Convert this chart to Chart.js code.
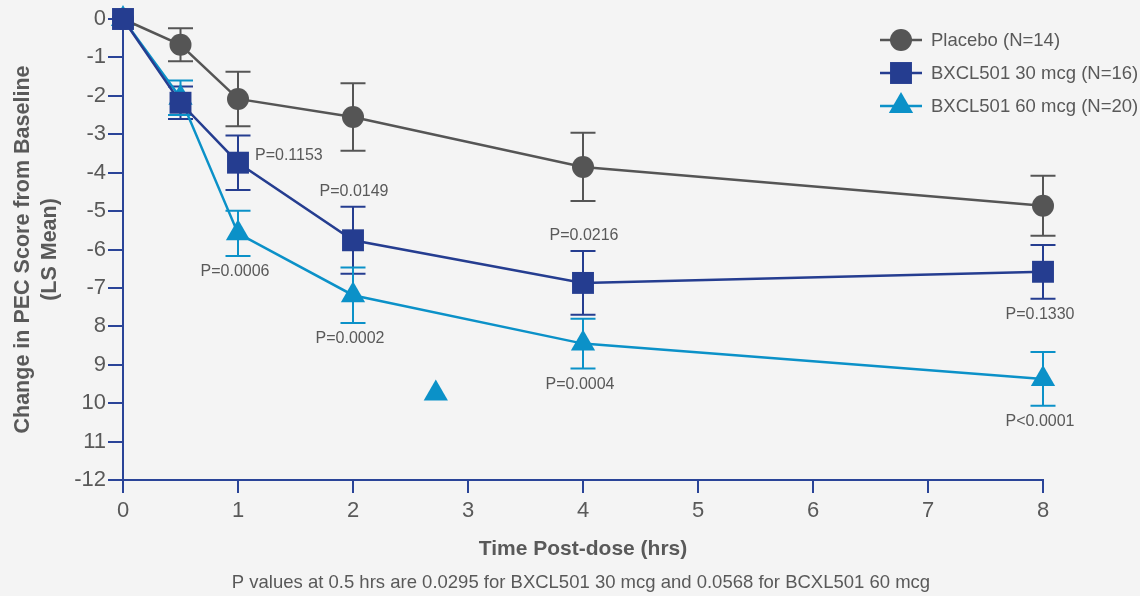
<!DOCTYPE html>
<html>
<head>
<meta charset="utf-8">
<script src="https://cdn.jsdelivr.net/npm/chart.js@4.4.1/dist/chart.umd.min.js"></script>
<style>
  html, body { margin: 0; padding: 0; background: #f4f4f4; }
  #wrap { width: 1140px; height: 596px; }
</style>
</head>
<body>
<div id="wrap"><canvas id="chart" width="1140" height="596"></canvas></div>
<script>
// time points (hrs)
const hours = [0, 0.5, 1, 2, 4, 8];

// LS mean change and error (half-length of error bar)
const placeboMean = [0, -0.67, -2.08, -2.55, -3.85, -4.86];
const placeboErr  = [0, 0.43, 0.71, 0.88, 0.89, 0.78];
const mcg30Mean   = [0, -2.18, -3.74, -5.76, -6.87, -6.58];
const mcg30Err    = [0, 0.42, 0.71, 0.87, 0.83, 0.70];
const mcg60Mean   = [0, -2.05, -5.58, -7.19, -8.45, -9.37];
const mcg60Err    = [0, 0.45, 0.59, 0.72, 0.65, 0.70];

// p-value annotations
const mcg30P     = [null, null, 'P=0.1153', 'P=0.0149', 'P=0.0216', 'P=0.1330'];
const mcg30PSide = [null, null, 'right', 'above', 'above', 'below'];
const mcg60P     = [null, null, 'P=0.0006', 'P=0.0002', 'P=0.0004', 'P<0.0001'];
const mcg60PSide = [null, null, 'below', 'below', 'below', 'below'];

// stray marker in the source figure
const strayX = [2.72];
const strayY = [-9.75];

const seriesNames = ['Placebo (N=14)', 'BXCL501 30 mcg (N=16)', 'BXCL501 60 mcg (N=20)'];
const yTickLabels = ['0', '-1', '-2', '-3', '-4', '-5', '-6', '-7', '8', '9', '10', '11', '-12'];
const xTitle = 'Time Post-dose (hrs)';
const yTitle = ['Change in PEC Score from Baseline', '(LS Mean)'];
const footnote = 'P values at 0.5 hrs are 0.0295 for BXCL501 30 mcg and 0.0568 for BCXL501 60 mcg';

const GREY = '#555555';
const NAVY = '#253d90';
const CYAN = '#0b91c8';
const AXIS = '#2a4498';
const TEXT = '#595959';
const FONT = 'Arial, "Liberation Sans", sans-serif';

const toPts = (xs, ys) => xs.map((x, i) => ({ x: x, y: ys[i] }));

const errorBars = {
  id: 'errorBars',
  beforeDatasetsDraw(chart) {
    const ctx = chart.ctx;
    const xs = chart.scales.x, ys = chart.scales.y;
    chart.data.datasets.forEach((ds) => {
      if (!ds.errors) return;
      ctx.save();
      ctx.strokeStyle = ds.borderColor;
      ctx.lineWidth = 2;
      ds.data.forEach((p, i) => {
        const e = ds.errors[i];
        if (!e) return;
        const px = xs.getPixelForValue(p.x);
        const top = ys.getPixelForValue(p.y + e);
        const bot = ys.getPixelForValue(p.y - e);
        ctx.beginPath();
        ctx.moveTo(px, top); ctx.lineTo(px, bot);
        ctx.moveTo(px - 12.5, top); ctx.lineTo(px + 12.5, top);
        ctx.moveTo(px - 12.5, bot); ctx.lineTo(px + 12.5, bot);
        ctx.stroke();
      });
      ctx.restore();
    });
  }
};

const annotations = {
  id: 'annotations',
  afterDraw(chart) {
    const ctx = chart.ctx;
    const xs = chart.scales.x, ys = chart.scales.y;
    ctx.save();
    ctx.fillStyle = TEXT;
    ctx.textBaseline = 'middle';

    // p-values
    ctx.font = '16px ' + FONT;
    chart.data.datasets.forEach((ds) => {
      if (!ds.pvals) return;
      ds.data.forEach((p, i) => {
        const t = ds.pvals[i];
        if (!t) return;
        const side = ds.pside[i];
        const e = ds.errors[i];
        const px = xs.getPixelForValue(p.x);
        if (side === 'right') {
          ctx.textAlign = 'left';
          ctx.fillText(t, px + 17, ys.getPixelForValue(p.y) - 7);
        } else if (side === 'above') {
          ctx.textAlign = 'center';
          ctx.fillText(t, px + 1, ys.getPixelForValue(p.y + e) - 15);
        } else {
          ctx.textAlign = 'center';
          ctx.fillText(t, px - 3, ys.getPixelForValue(p.y - e) + 16);
        }
      });
    });

    // legend
    ctx.font = '18.5px ' + FONT;
    ctx.textAlign = 'left';
    const legendSets = chart.data.datasets.filter(d => d.inLegend);
    legendSets.forEach((ds, i) => {
      const y = 40 + i * 33;
      ctx.strokeStyle = ds.borderColor;
      ctx.lineWidth = 2.5;
      ctx.beginPath();
      ctx.moveTo(880, y); ctx.lineTo(922, y);
      ctx.stroke();
      ctx.fillStyle = ds.backgroundColor;
      Chart.helpers.drawPoint(ctx, { pointStyle: ds.pointStyle, radius: ds.pointRadius, borderWidth: 0 }, 901, y);
      ctx.fillStyle = TEXT;
      ctx.fillText(ds.label, 931, y + 1);
    });

    // footnote
    ctx.font = '18.5px ' + FONT;
    ctx.textAlign = 'center';
    ctx.fillText(footnote, (chart.chartArea.left + chart.chartArea.right) / 2 - 2, 583);
    ctx.restore();
  }
};

new Chart(document.getElementById('chart'), {
  type: 'line',
  data: {
    datasets: [
      {
        label: seriesNames[0], inLegend: true,
        data: toPts(hours, placeboMean), errors: placeboErr,
        borderColor: GREY, backgroundColor: GREY,
        pointStyle: 'circle', pointRadius: 11, order: 1
      },
      {
        label: seriesNames[1], inLegend: true,
        data: toPts(hours, mcg30Mean), errors: mcg30Err,
        pvals: mcg30P, pside: mcg30PSide,
        borderColor: NAVY, backgroundColor: NAVY,
        pointStyle: 'rect', pointRadius: 15.5, order: 0
      },
      {
        label: seriesNames[2], inLegend: true,
        data: toPts(hours, mcg60Mean), errors: mcg60Err,
        pvals: mcg60P, pside: mcg60PSide,
        borderColor: CYAN, backgroundColor: CYAN,
        pointStyle: 'triangle', pointRadius: 14, order: 2
      },
      {
        label: 'stray',
        data: toPts(strayX, strayY),
        showLine: false,
        borderColor: CYAN, backgroundColor: CYAN,
        pointStyle: 'triangle', pointRadius: 14, order: 3
      }
    ]
  },
  options: {
    responsive: false,
    animation: false,
    clip: false,
    layout: { padding: { top: 19, right: 97, bottom: 30, left: 0 } },
    elements: {
      line: { borderWidth: 2.5, tension: 0 },
      point: { borderWidth: 0, hoverRadius: 11 }
    },
    plugins: { legend: { display: false }, tooltip: { enabled: false } },
    scales: {
      x: {
        type: 'linear', min: 0, max: 8,
        afterFit: (s) => { s.height = 86; },
        ticks: { stepSize: 1, color: TEXT, font: { size: 22, family: FONT }, padding: 5 },
        grid: { drawOnChartArea: false, color: AXIS, lineWidth: 2, tickLength: 13 },
        border: { color: AXIS, width: 2 },
        title: {
          display: true, text: xTitle, color: TEXT,
          font: { size: 21, weight: 'bold', family: FONT },
          padding: { top: 0, bottom: 4 }
        }
      },
      y: {
        type: 'linear', min: -12, max: 0,
        afterFit: (s) => { s.width = 123; },
        ticks: {
          stepSize: 1, color: TEXT, font: { size: 22, family: FONT }, padding: 2,
          callback: (v) => yTickLabels[Math.round(-v)]
        },
        grid: { drawOnChartArea: false, color: AXIS, lineWidth: 2, tickLength: 15 },
        border: { color: AXIS, width: 2 },
        title: {
          display: true, text: yTitle, color: TEXT,
          font: { size: 21.5, weight: 'bold', family: FONT, lineHeight: 1.26 },
          padding: { top: 9.5, bottom: 0 }
        }
      }
    }
  },
  plugins: [errorBars, annotations]
});
</script>
</body>
</html>
